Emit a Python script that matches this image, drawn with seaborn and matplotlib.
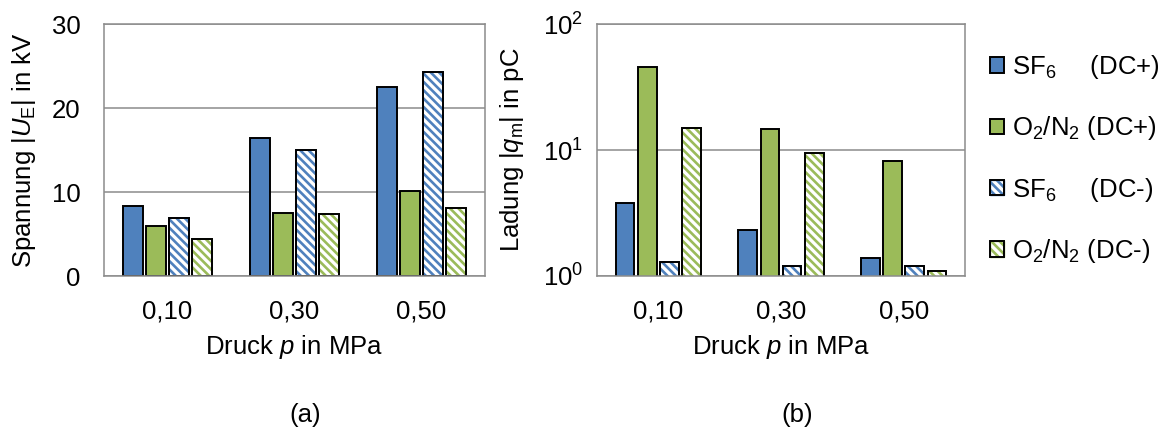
import numpy as np
import pandas as pd
import matplotlib
matplotlib.use("Agg")
import matplotlib.pyplot as plt
from matplotlib.patches import Patch, Rectangle
import seaborn as sns

# Druckstufen und Messreihen
druck = ["0,10", "0,30", "0,50"]
reihen = ["SF6 (DC+)", "O2/N2 (DC+)", "SF6 (DC-)", "O2/N2 (DC-)"]
legend_labels = ["SF$_6$    $\\hspace{0.25}$(DC+)", "O$_2$/N$_2$ (DC+)",
                 "SF$_6$    $\\hspace{0.25}$(DC-)", "O$_2$/N$_2$ (DC-)"]

# (a) Einsetzspannung |U_E| in kV
u_sf6_pos = [8.3, 16.4, 22.5]
u_o2n2_pos = [6.0, 7.5, 10.1]
u_sf6_neg = [6.9, 15.0, 24.3]
u_o2n2_neg = [4.4, 7.4, 8.1]

# (b) Ladung |q_m| in pC
q_sf6_pos = [3.8, 2.3, 1.4]
q_o2n2_pos = [45.8, 14.7, 8.2]
q_sf6_neg = [1.29, 1.2, 1.2]
q_o2n2_neg = [14.9, 9.4, 1.1]

blau = "#4F81BD"
gruen = "#9BBB59"
farben = [blau, gruen, blau, gruen]
schraffiert = [False, False, True, True]
muster = "\\\\\\\\"


def long_df(*serien):
    rows = []
    for name, vals in zip(reihen, serien):
        for d, v in zip(druck, vals):
            rows.append({"Druck": d, "Reihe": name, "Wert": v})
    return pd.DataFrame(rows)


df_u = long_df(u_sf6_pos, u_o2n2_pos, u_sf6_neg, u_o2n2_neg)
df_q = long_df(q_sf6_pos, q_o2n2_pos, q_sf6_neg, q_o2n2_neg)

sns.set_style("white")
plt.rcParams["font.family"] = ["Liberation Sans", "DejaVu Sans"]
plt.rcParams["mathtext.fontset"] = "custom"
plt.rcParams["mathtext.rm"] = "Liberation Sans"
plt.rcParams["mathtext.it"] = "Liberation Sans:italic"
plt.rcParams["hatch.linewidth"] = 1.9
for k in ["text.color", "axes.labelcolor", "xtick.color", "ytick.color"]:
    plt.rcParams[k] = "black"

grau = "#8C8C8C"
fs = 18.5

fig = plt.figure(figsize=(11.59, 4.30), dpi=100)
ax1 = fig.add_axes([104 / 1159, 1 - 276 / 430, 381 / 1159, 252 / 430])
ax2 = fig.add_axes([597 / 1159, 1 - 276 / 430, 368 / 1159, 252 / 430])
ax2.set_yscale("log")


def style_bars(ax):
    for cont, farbe, hatch in zip(ax.containers, farben, schraffiert):
        for bar in cont:
            if hatch:
                bar.set_facecolor("white")
                bar.set_edgecolor(farbe)
                bar.set_hatch(muster)
                rand = Rectangle(bar.get_xy(), bar.get_width(), bar.get_height(),
                                 fill=False, edgecolor="black", linewidth=1.4,
                                 zorder=bar.get_zorder() + 0.1)
                ax.add_patch(rand)


for ax, df in [(ax1, df_u), (ax2, df_q)]:
    sns.barplot(data=df, x="Druck", y="Wert", hue="Reihe", hue_order=reihen,
                palette=farben, width=0.725, gap=0.16, edgecolor="black",
                linewidth=1.4, saturation=1, legend=False, ax=ax)
    style_bars(ax)
    ax.set_axisbelow(True)
    ax.yaxis.grid(True, color=grau, linewidth=1.1)
    ax.xaxis.grid(False)
    for s in ax.spines.values():
        s.set_color(grau)
        s.set_linewidth(1.1)
    ax.tick_params(axis="both", length=0, labelsize=fs)
    ax.tick_params(axis="x", pad=17)
    ax.set_xlim(-0.5, 2.5)
    ax.set_xlabel("Druck $\\mathit{p}$ in MPa", fontsize=fs, labelpad=7)

ax1.set_ylim(0, 30)
ax1.set_yticks([0, 10, 20, 30])
ax1.tick_params(axis="y", pad=17)
ax1.set_ylabel("Spannung |$\\mathit{U}_\\mathrm{E}$| in kV", fontsize=fs)
ax1.yaxis.set_label_coords(-0.172, 0.5)

ax2.set_ylim(1, 100)
ax2.set_yticks([1, 10, 100])
ax2.yaxis.set_minor_locator(matplotlib.ticker.NullLocator())
ax2.tick_params(axis="y", pad=10)
ax2.set_ylabel("Ladung |$\\mathit{q}_\\mathrm{m}$| in pC", fontsize=fs)
ax2.yaxis.set_label_coords(-0.192, 0.5)

handles = []
for farbe, hatch in zip(farben, schraffiert):
    if hatch:
        handles.append((Patch(facecolor="white", edgecolor=farbe, hatch=muster),
                        Patch(fill=False, edgecolor="black", linewidth=1.4)))
    else:
        handles.append(Patch(facecolor=farbe, edgecolor="black", linewidth=1.4))
fig.legend(handles, legend_labels, loc="upper left",
           bbox_to_anchor=(990 / 1159, 1 - 53 / 430), frameon=False,
           fontsize=fs, handlelength=0.55, handleheight=0.55,
           handletextpad=0.3, labelspacing=1.3, borderpad=0, borderaxespad=0)

fig.text(305 / 1159, 1 - 415 / 430, "(a)", fontsize=fs, ha="center", va="center")
fig.text(797 / 1159, 1 - 415 / 430, "(b)", fontsize=fs, ha="center", va="center")

fig.savefig("out.png", dpi=100)
